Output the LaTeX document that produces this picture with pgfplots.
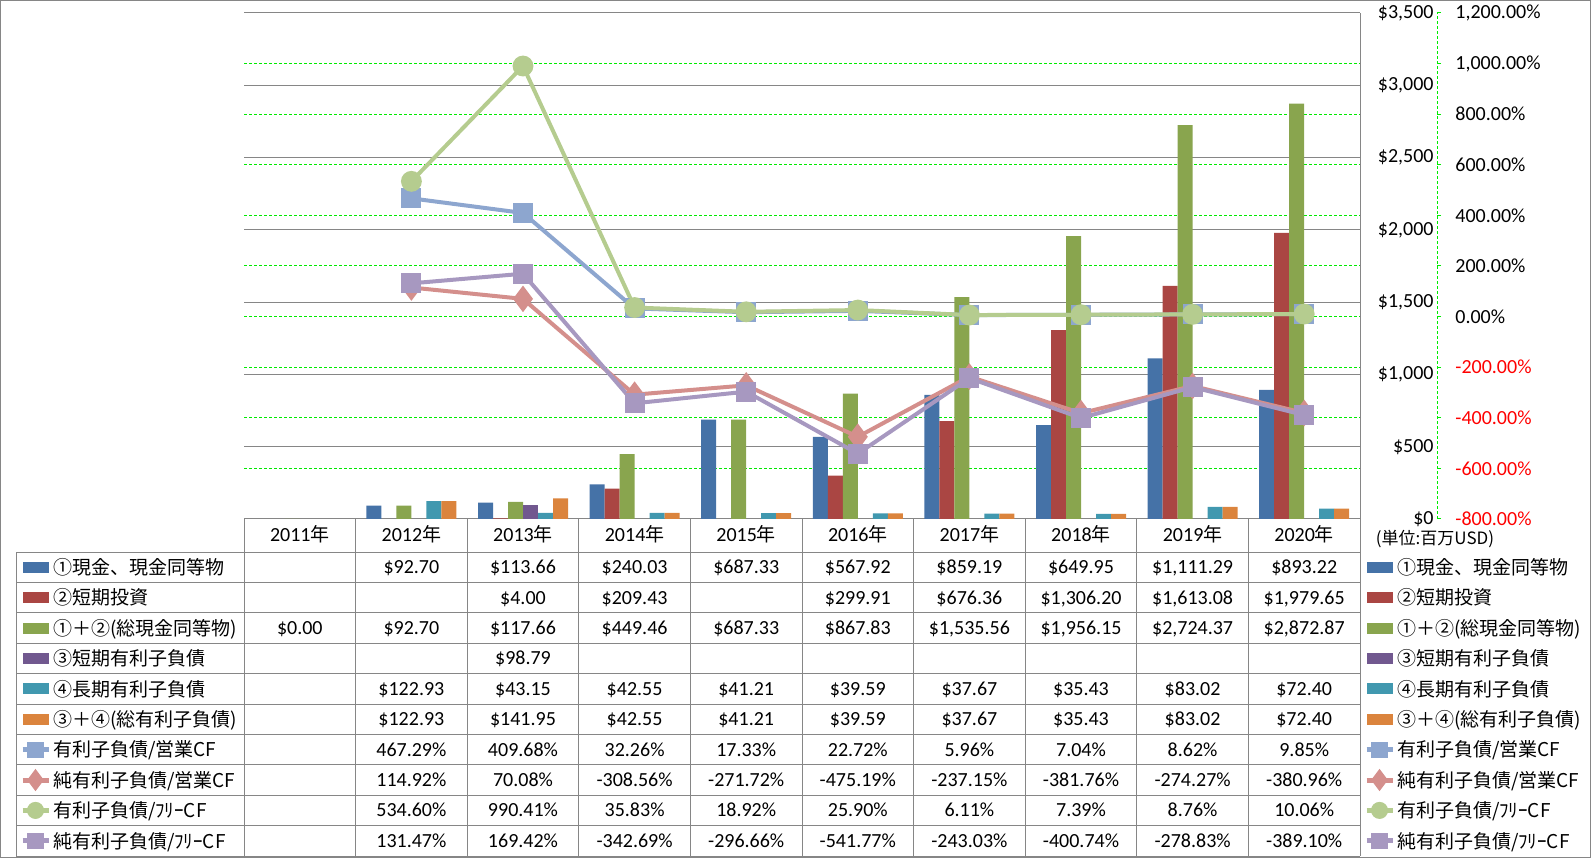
\documentclass[border=0pt]{standalone}
\usepackage{fontspec}
\setmainfont{Carlito}
\newfontfamily\cjk{Noto Sans CJK JP}
\usepackage{pgfplots}
\pgfplotsset{compat=1.18}

\definecolor{cBlue}{RGB}{69,114,167}
\definecolor{cRed}{RGB}{170,70,67}
\definecolor{cGreen}{RGB}{137,165,78}
\definecolor{cPurple}{RGB}{113,88,143}
\definecolor{cTeal}{RGB}{65,152,175}
\definecolor{cOrange}{RGB}{219,132,61}
\definecolor{lBlue}{RGB}{141,166,207}
\definecolor{lPink}{RGB}{212,143,140}
\definecolor{lGreen}{RGB}{181,204,143}
\definecolor{lPurple}{RGB}{167,152,192}
\definecolor{cGray}{RGB}{134,134,134}
\definecolor{gGreen}{RGB}{0,235,0}

\newcommand\jfont{\cjk\fontsize{9.5}{11}\selectfont}

\pgfplotsset{
  frame/.style={at={(122pt,169.5pt)}, anchor=south west, scale only axis,
    width=558pt, height=253pt, xmin=-0.5, xmax=9.5},
  barkey/.style={legend image code/.code={\fill[##1] (0pt,-2.75pt) rectangle (13pt,2.75pt); \path (14pt,0pt);}},
  linekey/.style={legend image code/.code={\draw[mark repeat=2,mark phase=2,##1]
      plot coordinates {(0pt,0pt) (6.5pt,0pt) (13pt,0pt)}; \path (14pt,0pt);}},
  keys/.style={frame, hide axis, ymin=0, ymax=1,
    legend cell align=left,
    legend style={at={(#1,-0.065217)}, anchor=north west, draw=none, fill=none,
      inner sep=0pt, outer sep=0pt, row sep=0pt,
      nodes={inner sep=0pt, text height=11.2pt, text depth=4pt, font=\jfont}}},
}

% one table row: row index, ten cells
\newcommand\trow[2]{%
  \foreach \v [count=\k from 0] in {#2} {
    \node[anchor=base, inner sep=0pt] at ({149.9+55.8*\k},{142.2-15.2*#1}) {\v};
  }}

\newcommand\allkeys{%
  \addlegendimage{barkey, fill=cBlue, draw=none}
  \addlegendentry{①現金、現金同等物}
  \addlegendimage{barkey, fill=cRed, draw=none}
  \addlegendentry{②短期投資}
  \addlegendimage{barkey, fill=cGreen, draw=none}
  \addlegendentry{①＋②(総現金同等物)}
  \addlegendimage{barkey, fill=cPurple, draw=none}
  \addlegendentry{③短期有利子負債}
  \addlegendimage{barkey, fill=cTeal, draw=none}
  \addlegendentry{④長期有利子負債}
  \addlegendimage{barkey, fill=cOrange, draw=none}
  \addlegendentry{③＋④(総有利子負債)}
  \addlegendimage{linekey, color=lBlue, line width=2.5pt, mark=square*, mark size=2.8pt}
  \addlegendentry{有利子負債/営業CF}
  \addlegendimage{linekey, color=lPink, line width=2.5pt, mark=diamond*, mark size=3.5pt}
  \addlegendentry{純有利子負債/営業CF}
  \addlegendimage{linekey, color=lGreen, line width=2.5pt, mark=*, mark size=3pt}
  \addlegendentry{有利子負債/ﾌﾘｰCF}
  \addlegendimage{linekey, color=lPurple, line width=2.5pt, mark=square*, mark size=2.8pt}
  \addlegendentry{純有利子負債/ﾌﾘｰCF}
}

\begin{document}
\begin{tikzpicture}[x=1pt,y=1pt]
\useasboundingbox (0,0) rectangle (795.5,429);
\draw[cGray, line width=0.5pt] (0.25,0.25) rectangle (795.25,428.75);

% percent grid and its axis on the far right
\begin{axis}[frame, ymin=-800, ymax=1200, clip=false,
  axis x line=none, axis y line*=right, y axis line style={draw=none},
  xtick=\empty, ytick={-800,-600,...,1200},
  yticklabels={\textcolor{red}{-800.00\%},\textcolor{red}{-600.00\%},
    \textcolor{red}{-400.00\%},\textcolor{red}{-200.00\%},0.00\%,200.00\%,
    400.00\%,600.00\%,800.00\%,{1,000.00\%},{1,200.00\%}},
  ymajorgrids, major grid style={gGreen, line width=0.5pt, dash pattern=on 1.5pt off 1pt},
  ytick style={gGreen, line width=0.5pt, xshift=38.5pt},
  major tick length=2pt, tick align=outside,
  /pgf/number format/assume math mode=true,
  yticklabel style={anchor=west, inner sep=0pt, xshift=45.5pt, font=\fontsize{10}{12}\selectfont},
]
\draw[gGreen, line width=0.5pt, dash pattern=on 1.5pt off 1pt]
  ([xshift=38.5pt]rel axis cs:1,0) -- ([xshift=38.5pt]rel axis cs:1,1);
\end{axis}

% bars in dollars
\begin{axis}[frame, ymin=0, ymax=3500,
  ybar=0pt, bar width=7.5pt,
  axis x line*=bottom, axis y line*=right,
  axis line style={cGray, line width=0.5pt},
  xtick=\empty, ytick={0,500,...,3500},
  yticklabels={\$0,\$500,{\$1,000},{\$1,500},{\$2,000},{\$2,500},{\$3,000},{\$3,500}},
  major tick length=0pt,
  ymajorgrids, major grid style={cGray, line width=0.5pt},
  /pgf/number format/assume math mode=true,
  yticklabel style={anchor=east, inner sep=0pt, xshift=37pt, font=\fontsize{10}{12}\selectfont},
]
\addplot[fill=cBlue, draw=none] coordinates {(1,92.70) (2,113.66) (3,240.03) (4,687.33) (5,567.92) (6,859.19) (7,649.95) (8,1111.29) (9,893.22)};
\addplot[fill=cRed, draw=none] coordinates {(2,4.00) (3,209.43) (5,299.91) (6,676.36) (7,1306.20) (8,1613.08) (9,1979.65)};
\addplot[fill=cGreen, draw=none] coordinates {(0,0) (1,92.70) (2,117.66) (3,449.46) (4,687.33) (5,867.83) (6,1535.56) (7,1956.15) (8,2724.37) (9,2872.87)};
\addplot[fill=cPurple, draw=none] coordinates {(2,98.79)};
\addplot[fill=cTeal, draw=none] coordinates {(1,122.93) (2,43.15) (3,42.55) (4,41.21) (5,39.59) (6,37.67) (7,35.43) (8,83.02) (9,72.40)};
\addplot[fill=cOrange, draw=none] coordinates {(1,122.93) (2,141.95) (3,42.55) (4,41.21) (5,39.59) (6,37.67) (7,35.43) (8,83.02) (9,72.40)};
\end{axis}

% ratio lines in percent
\begin{axis}[frame, ymin=-800, ymax=1200, hide axis, clip=false]
\addplot[color=lBlue, line width=2pt, mark=square*, mark size=4pt] coordinates {(1,467.29) (2,409.68) (3,32.26) (4,17.33) (5,22.72) (6,5.96) (7,7.04) (8,8.62) (9,9.85)};
\addplot[color=lPink, line width=2pt, mark=diamond*, mark size=5pt] coordinates {(1,114.92) (2,70.08) (3,-308.56) (4,-271.72) (5,-475.19) (6,-237.15) (7,-381.76) (8,-274.27) (9,-380.96)};
\addplot[color=lGreen, line width=2pt, mark=*, mark size=4.2pt] coordinates {(1,534.60) (2,990.41) (3,35.83) (4,18.92) (5,25.90) (6,6.11) (7,7.39) (8,8.76) (9,10.06)};
\addplot[color=lPurple, line width=2pt, mark=square*, mark size=4pt] coordinates {(1,131.47) (2,169.42) (3,-342.69) (4,-296.66) (5,-541.77) (6,-243.03) (7,-400.74) (8,-278.83) (9,-389.10)};
\end{axis}

% legend keys left and right of the data table
\begin{axis}[keys=-0.200717]
\allkeys
\end{axis}
\begin{axis}[keys=1.003584]
\allkeys
\end{axis}

% data table grid
\foreach \j in {0,...,10} \draw[cGray, line width=0.5pt] (8,{153-15.2*\j}) -- (680,{153-15.2*\j});
\draw[cGray, line width=0.5pt] (8,153) -- (8,1);
\foreach \k in {0,...,10} \draw[cGray, line width=0.5pt] ({122+55.8*\k},169.5) -- ({122+55.8*\k},1);

% header and cells
\foreach \y [count=\k from 0] in {2011,2012,2013,2014,2015,2016,2017,2018,2019,2020}
  \node[anchor=base, inner sep=0pt] at ({149.9+55.8*\k},158.05) {\y{\jfont 年}};
\node[anchor=base, inner sep=0pt, font=\cjk\fontsize{8.5}{10}\selectfont] at (717.5,156.8) {(単位:百万USD)};

\trow{0}{{},\$92.70,\$113.66,\$240.03,\$687.33,\$567.92,\$859.19,\$649.95,{\$1,111.29},\$893.22}
\trow{1}{{},{},\$4.00,\$209.43,{},\$299.91,\$676.36,{\$1,306.20},{\$1,613.08},{\$1,979.65}}
\trow{2}{\$0.00,\$92.70,\$117.66,\$449.46,\$687.33,\$867.83,{\$1,535.56},{\$1,956.15},{\$2,724.37},{\$2,872.87}}
\trow{3}{{},{},\$98.79,{},{},{},{},{},{},{}}
\trow{4}{{},\$122.93,\$43.15,\$42.55,\$41.21,\$39.59,\$37.67,\$35.43,\$83.02,\$72.40}
\trow{5}{{},\$122.93,\$141.95,\$42.55,\$41.21,\$39.59,\$37.67,\$35.43,\$83.02,\$72.40}
\trow{6}{{},467.29\%,409.68\%,32.26\%,17.33\%,22.72\%,5.96\%,7.04\%,8.62\%,9.85\%}
\trow{7}{{},114.92\%,70.08\%,-308.56\%,-271.72\%,-475.19\%,-237.15\%,-381.76\%,-274.27\%,-380.96\%}
\trow{8}{{},534.60\%,990.41\%,35.83\%,18.92\%,25.90\%,6.11\%,7.39\%,8.76\%,10.06\%}
\trow{9}{{},131.47\%,169.42\%,-342.69\%,-296.66\%,-541.77\%,-243.03\%,-400.74\%,-278.83\%,-389.10\%}
\end{tikzpicture}
\end{document}
